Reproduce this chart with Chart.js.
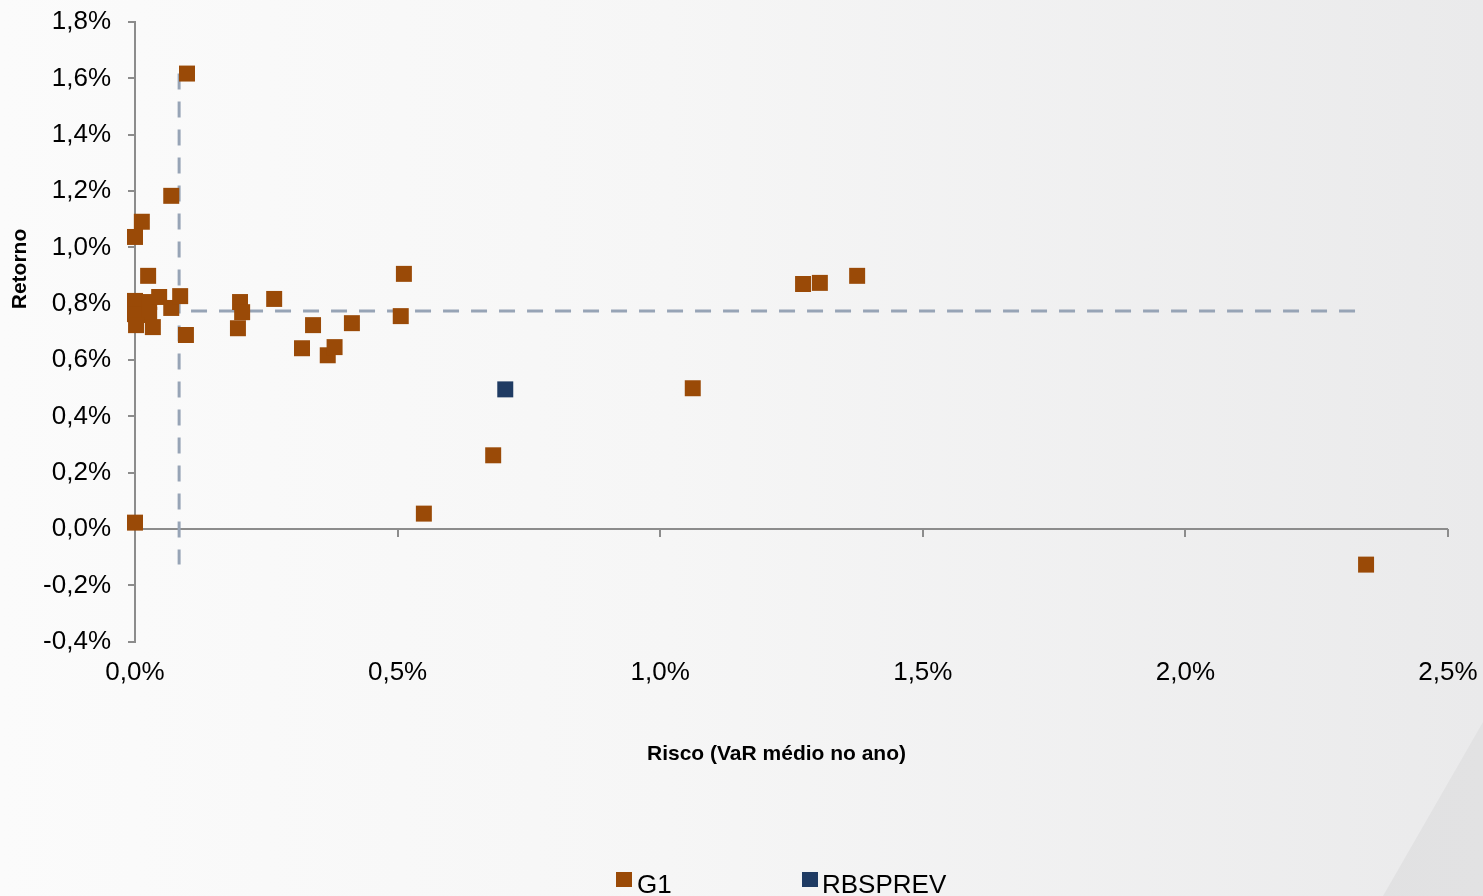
<!DOCTYPE html>
<html>
<head>
<meta charset="utf-8">
<script src="https://cdn.jsdelivr.net/npm/chart.js@4.4.0/dist/chart.umd.min.js"></script>
<style>
  body { margin: 0; overflow: hidden; font-family: "Liberation Sans", Arial, sans-serif; }
  #wrap { position: relative; width: 1483px; height: 896px;
    background: linear-gradient(to right, #fbfbfb 0%, #f6f6f6 45%, #eaeaeb 100%); }
  #corner { position: absolute; left: 0; top: 0; width: 1483px; height: 896px;
    background: linear-gradient(to right, #d8d8d9, #e2e2e3);
    clip-path: polygon(1483px 722px, 1483px 896px, 1383px 896px); }
  canvas { position: absolute; left: 0; top: 0; }
  .leg { position: absolute; top: 871px; font-size: 26px; line-height: 26px; color: #000; white-space: nowrap; }
  .leg i { position: absolute; left: 0; top: 1px; width: 16px; height: 15px; }
</style>
</head>
<body>
<div id="wrap">
  <div id="corner"></div>
  <canvas id="myChart" width="1483" height="896"></canvas>
  <div class="leg" style="left:616px; padding-left:21px;"><i style="background:#9A4A07"></i>G1</div>
  <div class="leg" style="left:802px; padding-left:20px;"><i style="background:#1F3B63"></i>RBSPREV</div>
</div>
<script>
  // G1 funds: risk (VaR medio no ano, %) and return (%)
  const g1Risk   = [0.099, 0.069, 0.013, 0.000, 0.025, 0.000, 0.027, 0.000, 0.027, 0.002,
                    0.034, 0.046, 0.069, 0.086, 0.097, 0.200, 0.204, 0.196, 0.265, 0.339,
                    0.318, 0.367, 0.380, 0.413, 0.506, 0.512, 0.682, 0.550, 1.062, 1.272,
                    1.304, 1.375, 2.344, 0.000];
  const g1Return = [1.617, 1.183, 1.091, 1.037, 0.899, 0.810, 0.806, 0.763, 0.760, 0.724,
                    0.717, 0.824, 0.785, 0.827, 0.689, 0.806, 0.770, 0.713, 0.817, 0.724,
                    0.642, 0.617, 0.646, 0.731, 0.756, 0.906, 0.262, 0.055, 0.500, 0.870,
                    0.874, 0.899, -0.126, 0.023];

  // RBSPREV
  const rbsRisk   = [0.705];
  const rbsReturn = [0.496];

  // reference (dashed) lines
  const refRisk = 0.084;
  const refReturn = 0.774;
  const vLineReturn = [1.617, -0.126];   // drawn top -> bottom
  const hLineRisk = [2.323, 0.084];      // drawn right -> left

  // axes
  const xMin = 0, xMax = 2.5, xStep = 0.5;
  const yMin = -0.4, yMax = 1.8, yStep = 0.2;

  const brown = '#9A4A07';
  const navy = '#1F3B63';
  const dashColor = '#97a4b6';
  const axisGray = '#8c8c8c';

  function pct(v) {
    const n = Math.abs(v) < 1e-9 ? 0 : v;
    return n.toFixed(1).replace('.', ',') + '%';
  }

  const toPoints = (xs, ys) => xs.map((x, i) => ({ x: x, y: ys[i] }));

  // zero line with tick marks + axis titles
  const axisExtras = {
    id: 'axisExtras',
    beforeDatasetsDraw(chart) {
      const { ctx, chartArea, scales: { x, y } } = chart;
      const y0 = Math.round(y.getPixelForValue(0));
      ctx.save();
      ctx.strokeStyle = axisGray;
      ctx.lineWidth = 2;
      ctx.beginPath();
      ctx.moveTo(chartArea.left, y0);
      ctx.lineTo(chartArea.right, y0);
      x.ticks.forEach(t => {
        const px = Math.round(x.getPixelForValue(t.value));
        ctx.moveTo(px, y0);
        ctx.lineTo(px, y0 + 8);
      });
      ctx.stroke();
      ctx.restore();
    },
    afterDraw(chart) {
      const { ctx, chartArea } = chart;
      ctx.save();
      ctx.fillStyle = '#000';
      ctx.font = 'bold 21px "Liberation Sans", Arial, sans-serif';
      ctx.textAlign = 'center';
      ctx.textBaseline = 'middle';
      ctx.fillText('Risco (VaR médio no ano)', (chartArea.left + chartArea.right) / 2 - 15, chartArea.bottom + 112);
      ctx.translate(20, chartArea.top + 247);
      ctx.rotate(-Math.PI / 2);
      ctx.fillText('Retorno', 0, 0);
      ctx.restore();
    }
  };

  const ctx = document.getElementById('myChart').getContext('2d');

  const myChart = new Chart(ctx, {
    type: 'scatter',
    data: {
      datasets: [{
        label: 'G1',
        data: toPoints(g1Risk, g1Return),
        pointStyle: 'rect',
        pointRadius: 11.3,
        pointBackgroundColor: brown,
        pointBorderWidth: 0,
        backgroundColor: brown,
        clip: false,
        order: 0
      }, {
        label: 'RBSPREV',
        data: toPoints(rbsRisk, rbsReturn),
        pointStyle: 'rect',
        pointRadius: 11.3,
        pointBackgroundColor: navy,
        pointBorderWidth: 0,
        backgroundColor: navy,
        clip: false,
        order: 0
      }, {
        label: 'risco ref',
        data: toPoints([refRisk, refRisk], vLineReturn),
        showLine: true,
        pointRadius: 0,
        borderColor: dashColor,
        borderWidth: 3,
        borderDash: [16, 12],
        order: 2
      }, {
        label: 'retorno ref',
        data: toPoints(hLineRisk, [refReturn, refReturn]),
        showLine: true,
        pointRadius: 0,
        borderColor: dashColor,
        borderWidth: 3,
        borderDash: [16, 12],
        order: 2
      }]
    },
    options: {
      responsive: false,
      animation: false,
      layout: { padding: { top: 22, right: 35, bottom: 193, left: 0 } },
      plugins: {
        legend: { display: false },
        tooltip: { enabled: false }
      },
      scales: {
        x: {
          type: 'linear',
          min: xMin,
          max: xMax,
          grid: { display: false, drawTicks: false },
          border: { display: false },
          ticks: {
            stepSize: xStep,
            callback: v => pct(v),
            color: '#000',
            padding: 15,
            font: { family: '"Liberation Sans", Arial, sans-serif', size: 26 }
          },
          afterFit: scale => { scale.paddingLeft = 0; scale.paddingRight = 0; }
        },
        y: {
          min: yMin,
          max: yMax,
          grid: { drawOnChartArea: false, drawTicks: true, tickLength: 7, color: axisGray, lineWidth: 2 },
          border: { display: true, color: axisGray, width: 2 },
          ticks: {
            stepSize: yStep,
            callback: v => pct(v),
            color: '#000',
            padding: 17,
            font: { family: '"Liberation Sans", Arial, sans-serif', size: 26 }
          },
          afterFit: scale => { scale.width = 135; scale.paddingTop = 0; scale.paddingBottom = 0; }
        }
      }
    },
    plugins: [axisExtras]
  });
</script>
</body>
</html>
